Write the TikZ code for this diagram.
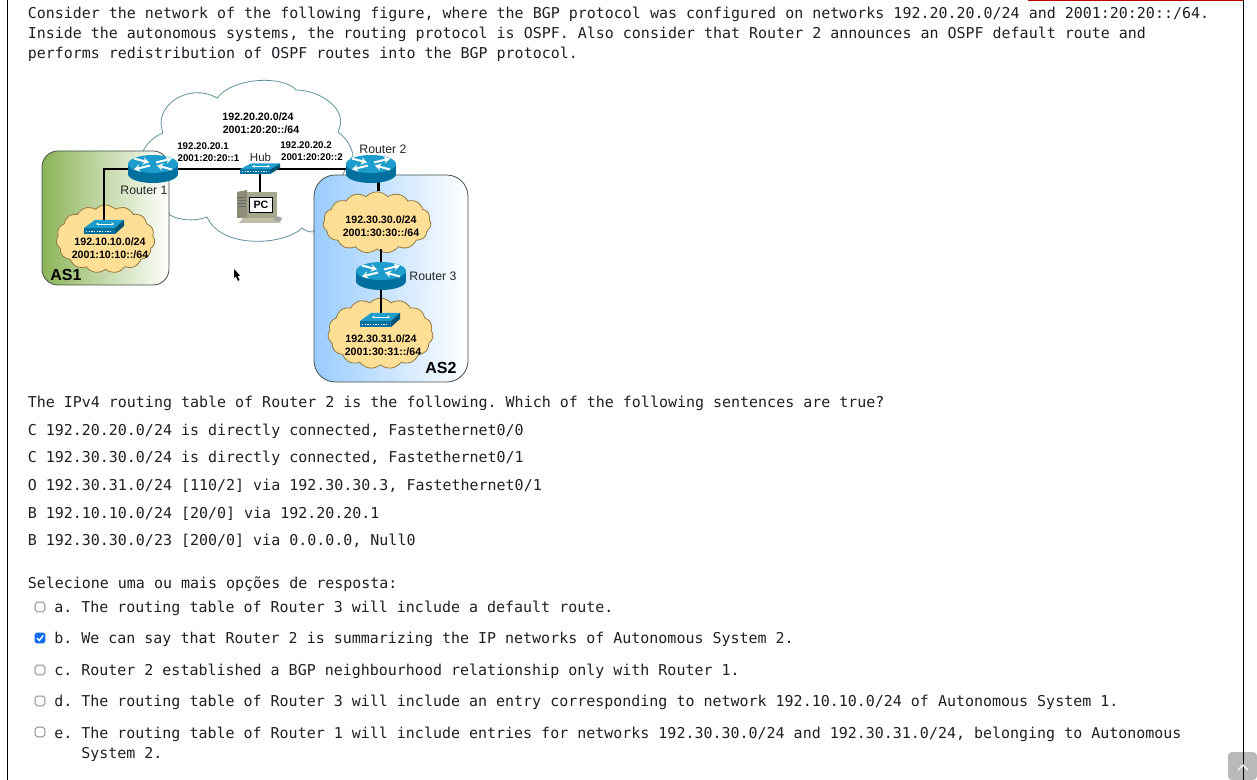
\documentclass[tikz,border=0pt]{standalone}
\usepackage{fontspec}
\setmainfont{Liberation Sans}
\setmonofont[Ligatures=NoCommon]{DejaVu Sans Mono}
\usetikzlibrary{shapes.symbols,arrows.meta}
\definecolor{txtc}{HTML}{1D2125}
\definecolor{rtop}{HTML}{1C9DCB}
\definecolor{rside}{HTML}{00709F}
\definecolor{cldf}{HTML}{FFDF96}
\definecolor{cldl}{HTML}{8F7A3C}
\definecolor{bigl}{HTML}{5F929E}
\definecolor{asl}{HTML}{44504A}
\definecolor{asgreen}{HTML}{8CB458}
\definecolor{asblue}{HTML}{99CCFF}
\definecolor{pcd}{HTML}{8E8E78}
\definecolor{pcm}{HTML}{A6A68E}
\definecolor{pcl}{HTML}{BDBDA8}
\definecolor{chkb}{HTML}{0F6CEF}
\tikzset{
  x=0.75pt,y=-0.75pt,
  qtext/.style={anchor=base west,inner sep=0pt,text=txtc,font=\ttfamily\fontsize{11.235}{13}\selectfont},
  netb/.style={inner sep=0pt,font=\bfseries\fontsize{8}{9}\selectfont},
  nets/.style={inner sep=0pt,font=\bfseries\fontsize{7.3}{9}\selectfont},
  devl/.style={inner sep=0pt,font=\fontsize{9.2}{10}\selectfont,text=black!85},
  asn/.style={inner sep=0pt,font=\bfseries\fontsize{12}{13}\selectfont},
  ybox/.style={draw=asl,line width=.6pt,rounded corners=12pt},
  ycloud/.style={cloud,cloud puffs=15,cloud puff arc=95,draw=cldl,fill=cldf,line width=.6pt,inner sep=0pt,cloud ignores aspect},
  link/.style={draw=black,line width=1.6pt},
  rspot/.style={inner sep=0pt,minimum width=37.5pt,minimum height=19pt},
  sspot/.style={inner sep=0pt,minimum width=30pt,minimum height=10pt},
  unchk/.style={draw=black!45,fill=white,line width=.7pt,rounded corners=1.4pt,inner sep=0pt,minimum size=7.2pt},
  chk/.style={fill=chkb,rounded corners=1.4pt,inner sep=0pt,minimum size=8pt},
  wa/.style={white,line width=1.5pt,-{Stealth[length=4.5pt,width=5.5pt]}},
  router/.pic={
    \fill[rside] (-25,-5) rectangle (25,5);
    \fill[rside] (0,5) ellipse (25 and 9);
    \fill[rtop] (0,-5) ellipse (25 and 9);
    \draw[wa] (-19,-10.5) -- (-4,-6.5);
    \draw[wa] (19,.5) -- (4,-3.5);
    \draw[wa] (3,-6.5) -- (19,-10.5);
    \draw[wa] (-3,-3.5) -- (-19,.5);
  },
  swt/.pic={
    \fill[rtop] (-9,-7) -- (20,-7) -- (11,1) -- (-20,1) -- cycle;
    \fill[rside] (-20,1) -- (11,1) -- (11,7) -- (-20,7) -- cycle;
    \fill[rside!75!black] (11,1) -- (20,-7) -- (20,-1) -- (11,7) -- cycle;
    \draw[white,line width=.6pt,{Stealth[length=2pt,width=2pt]}-{Stealth[length=2pt,width=2pt]}] (-8,-3) -- (10,-3);
    \draw[white,line width=1pt,dash pattern=on 1pt off 1pt] (-18,4.5) -- (8,4.5);
  },
}
\begin{document}
\begin{tikzpicture}
\useasboundingbox (0,0) rectangle (1257,780);
\fill[white] (0,0) rectangle (1257,780);
% page frame
\draw[black,line width=.75pt] (7.5,0) -- (7.5,780);
\fill[gray!55] (1228,752) [rounded corners=3pt] -- (1257,752) -- (1257,780) -- (1228,780) -- cycle;
\draw[black,line width=.75pt] (1243.5,0) -- (1243.5,780);
\draw[white,line width=1pt] (1238,770) -- (1243,765) -- (1248,770);
\draw[red!75!black,line width=1.2pt] (1028,.5) -- (1243,.5);
% large cloud
\draw[bigl,fill=white,line width=.6pt] (143,151) .. controls (147,143) and (155,136) .. (163,133)
  .. controls (152,105) and (190,82) .. (217,98)
  .. controls (235,76) and (285,76) .. (296,90)
  .. controls (318,90) and (350,108) .. (338,132)
  .. controls (345,137) and (351,145) .. (353,155)
  -- (313,232) .. controls (308,232) and (304,230) .. (302,228)
  .. controls (285,245) and (222,250) .. (207,217)
  .. controls (195,222) and (178,220) .. (170,215) -- cycle;
% autonomous systems
\node[ybox,left color=asgreen,right color=white,minimum width=95.25pt,minimum height=100.5pt,inner sep=0pt] (as1) at (105.5,218) {};
\node[ybox,rounded corners=16pt,left color=asblue,right color=white,minimum width=115.5pt,minimum height=155.25pt,inner sep=0pt] (as2) at (391,278.5) {};
% small clouds
\node[ycloud,minimum width=74pt,minimum height=51pt] (c1) at (105.5,239) {};
\node[ycloud,minimum width=81pt,minimum height=46pt] (c2) at (377,222.5) {};
\node[ycloud,minimum width=79pt,minimum height=53pt] (c3) at (380.5,333.5) {};
% anchor nodes for the devices
\node[rspot] (r1) at (153,169) {};
\node[rspot] (r2) at (371,169) {};
\node[rspot] (r3) at (381,276) {};
\node[sspot] (s1) at (104,227) {};
\node[sspot] (s3) at (380,320) {};
\node[sspot,minimum height=7pt] (hub) at (260,168.5) {};
\node[inner sep=0pt,minimum width=30pt,minimum height=20pt] (pc) at (260,206) {};
% connectors
\path[link] (r1.center) -- (r2.center);
\path[link] (r1.center) -| (s1.center);
\path[link] (hub.center) -- (hub.center |- pc.north);
\path[link] (r2.south -| 378.5,0) -- (c2.north -| 378.5,0);
\path[link] (c2.south -| 381,0) -- (r3.north -| 381,0);
\path[link] (r3.south -| 381,0) -- (s3.north -| 381,0);
% devices
\pic at (r1.center) {router};
\pic at (r2.center) {router};
\pic at (r3.center) {router};
\pic at (s1.center) {swt};
\pic at (s3.center) {swt};
\pic[yscale=.72] at (hub.center) {swt};
% PC
\fill[pcd] (237,192) -- (247,190) -- (247,218) -- (237,218) -- cycle;
\draw[black!60,line width=.4pt] (238,197) -- (246,197) (238,200) -- (246,200) (238,203) -- (246,203) (238,206) -- (246,206);
\fill[pcm] (247,192) rectangle (277,218);
\fill[pcl] (243,218) -- (277,218) -- (281,223) -- (239,223) -- cycle;
\fill[black!35] (278,219) ellipse (4 and 2.5);
\node[draw=black,line width=.4pt,fill=white,inner sep=0pt,minimum width=17pt,minimum height=11pt,font=\bfseries\fontsize{8}{9}\selectfont] (pcs) at (261,204.5) {PC};
% cursor
\fill[black] (234,269) -- (234,278) -- (236,276.5) -- (238,281) -- (239.5,280) -- (237.5,276) -- (240,275.5) -- cycle;
% network labels
\node[netb] (n1) at (258,116.5) {192.20.20.0/24};
\node[netb] (n2) at (261,129.5) {2001:20:20::/64};
\node[nets] (n3) at (203,146.5) {192.20.20.1};
\node[nets] (n4) at (208.5,158.5) {2001:20:20::1};
\node[nets] (n5) at (306,145.5) {192.20.20.2};
\node[nets] (n6) at (312,157.5) {2001:20:20::2};
\node[devl,font=\fontsize{8.6}{10}\selectfont] (hl) at (260.5,157.5) {Hub};
\node[devl] (l1) at (144,190.5) {Router 1};
\node[devl] (l2) at (383,149) {Router 2};
\node[devl] (l3) at (433,276.5) {Router 3};
\node[asn] (a1) at (66,274.5) {AS1};
\node[asn] (a2) at (441,368) {AS2};
\node[netb] (m1) at (110,241.5) {192.10.10.0/24};
\node[netb] (m2) at (110,254.5) {2001:10:10::/64};
\node[netb] (m3) at (381,219.5) {192.30.30.0/24};
\node[netb] (m4) at (381,232.5) {2001:30:30::/64};
\node[netb] (m5) at (381,338.5) {192.30.31.0/24};
\node[netb] (m6) at (383,351.5) {2001:30:31::/64};
% text
\node[qtext] (t1) at (27.5,19) {Consider the network of the following figure, where the BGP protocol was configured on networks 192.20.20.0/24 and 2001:20:20::/64.};
\node[qtext] (t2) at (27.5,39) {Inside the autonomous systems, the routing protocol is OSPF. Also consider that Router 2 announces an OSPF default route and};
\node[qtext] (t3) at (27.5,59) {performs redistribution of OSPF routes into the BGP protocol.};
\node[qtext] (t4) at (27.5,408) {The IPv4 routing table of Router 2 is the following. Which of the following sentences are true?};
\node[qtext] (t5) at (27.5,436) {C 192.20.20.0/24 is directly connected, Fastethernet0/0};
\node[qtext] (t6) at (27.5,463) {C 192.30.30.0/24 is directly connected, Fastethernet0/1};
\node[qtext] (t7) at (27.5,491) {O 192.30.31.0/24 [110/2] via 192.30.30.3, Fastethernet0/1};
\node[qtext] (t8) at (27.5,518) {B 192.10.10.0/24 [20/0] via 192.20.20.1};
\node[qtext] (t9) at (27.5,546) {B 192.30.30.0/23 [200/0] via 0.0.0.0, Null0};
\node[qtext] (t10) at (27.5,588) {Selecione uma ou mais opções de resposta:};
\node[qtext] (oa) at (54,612) {a. The routing table of Router 3 will include a default route.};
\node[qtext] (ob) at (54,643) {b. We can say that Router 2 is summarizing the IP networks of Autonomous System 2.};
\node[qtext] (oc) at (54,675) {c. Router 2 established a BGP neighbourhood relationship only with Router 1.};
\node[qtext] (od) at (54,706) {d. The routing table of Router 3 will include an entry corresponding to network 192.10.10.0/24 of Autonomous System 1.};
\node[qtext] (oe) at (54,738) {e. The routing table of Router 1 will include entries for networks 192.30.30.0/24 and 192.30.31.0/24, belonging to Autonomous};
\node[qtext] (oe2) at (81,758) {System 2.};
% checkboxes
\node[unchk] (ca) at (40,607) {};
\node[chk] (cb) at (40,638) {};
\draw[white,line width=1pt] (37,638) -- (39.3,640.5) -- (43.3,635.5);
\node[unchk] (cc) at (40,670) {};
\node[unchk] (cd) at (40,701) {};
\node[unchk] (ce) at (40,732) {};
\end{tikzpicture}
\end{document}
